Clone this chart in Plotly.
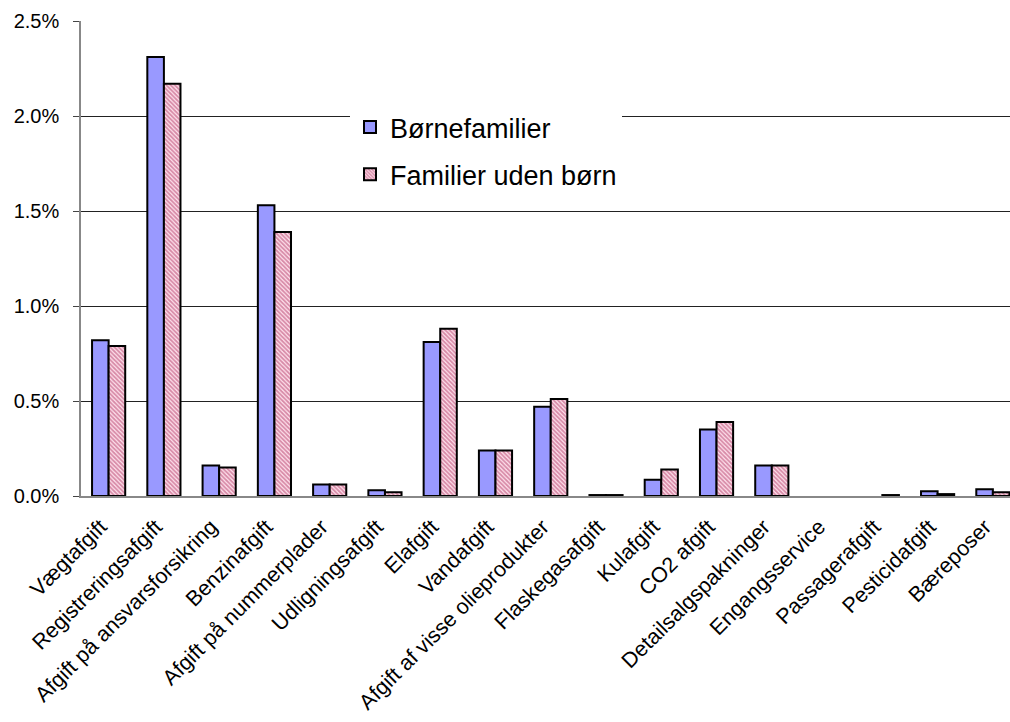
import plotly.graph_objects as go

categories = ["Vægtafgift", "Registreringsafgift", "Afgift på ansvarsforsikring",
              "Benzinafgift", "Afgift på nummerplader", "Udligningsafgift", "Elafgift",
              "Vandafgift", "Afgift af visse olieprodukter", "Flaskegasafgift", "Kulafgift",
              "CO2 afgift", "Detailsalgspakninger", "Engangsservice", "Passagerafgift",
              "Pesticidafgift", "Bæreposer"]
boernefamilier = [0.82, 2.31, 0.16, 1.53, 0.06, 0.03, 0.81, 0.24, 0.47, 0.005, 0.085,
                  0.35, 0.16, None, None, 0.025, 0.035]
uden_boern = [0.79, 2.17, 0.15, 1.39, 0.06, 0.02, 0.88, 0.24, 0.51, 0.005, 0.14,
              0.39, 0.16, None, 0.005, 0.01, 0.02]
ytick_vals = [0, 0.5, 1.0, 1.5, 2.0, 2.5]
ytick_text = ["0.0%", "0.5%", "1.0%", "1.5%", "2.0%", "2.5%"]

fig = go.Figure()
fig.add_trace(go.Bar(
    x=categories, y=boernefamilier, name="Børnefamilier", legendgroup="a",
    marker=dict(color="#9999ff", line=dict(color="black", width=2)),
))
fig.add_trace(go.Bar(
    x=categories, y=uden_boern, name="Familier uden børn", legendgroup="b",
    marker=dict(color="#ffffff", line=dict(color="black", width=2),
                pattern=dict(shape="\\", fgcolor="#b03060", bgcolor="#ffe4ee",
                             size=3, solidity=0.6)),
))

fig.update_layout(
    width=1010, height=722,
    margin=dict(l=81, r=0, t=21, b=226),
    paper_bgcolor="white", plot_bgcolor="white",
    barmode="group", bargap=0.4, bargroupgap=0,
    font=dict(family="Liberation Sans, Arial, sans-serif", size=20, color="black"),
    showlegend=True,
    legend=dict(x=(350 - 81) / 929, y=(496 - 103) / 475, xanchor="left", yanchor="top",
                bgcolor="white", font=dict(size=27), tracegroupgap=9,
                itemwidth=30),
    xaxis=dict(range=[-0.5, 16.31], tickangle=-45, showline=True, linecolor="#888888",
               linewidth=1.5, ticks="", showgrid=False, tickfont=dict(size=21.5),
               ticklabelstandoff=8, ticklabelshift=-8, automargin=False),
    yaxis=dict(range=[0, 2.5], tickvals=ytick_vals, ticktext=ytick_text,
               showline=True, linecolor="#888888", linewidth=1.5, ticks="outside",
               ticklen=6, tickcolor="#444444", showgrid=True, gridcolor="#222222",
               gridwidth=1, zeroline=False, tickfont=dict(size=20),
               ticklabelstandoff=10, automargin=False),
)

fig.write_html("out.html")
